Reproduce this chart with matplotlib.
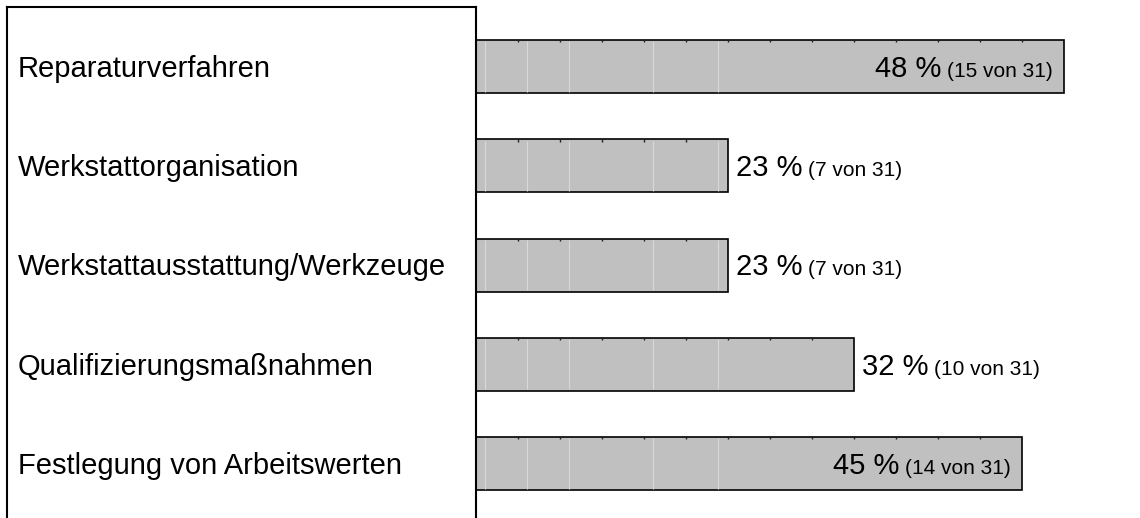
import matplotlib
matplotlib.use("Agg")
import matplotlib.pyplot as plt
from matplotlib import transforms
from matplotlib.font_manager import FontProperties
from matplotlib.lines import Line2D
import numpy as np

# data
categories = [
    "Reparaturverfahren",
    "Werkstattorganisation",
    "Werkstattausstattung/Werkzeuge",
    "Qualifizierungsmaßnahmen",
    "Festlegung von Arbeitswerten",
]
counts = [15, 7, 7, 10, 14]
total = 31

plt.rcParams['font.family'] = ['Liberation Sans', 'DejaVu Sans']

W, H, DPI = 1140, 518, 100
fig = plt.figure(figsize=(W / DPI, H / DPI), dpi=DPI)

# axes: left edge at x=476px, top at y=7px
ax = fig.add_axes([476 / W, 0, 664 / W, 511 / H])

pct = np.array(counts) / total * 100
unit = 100 / total              # one respondent in percent
px_per_pct = 42 / unit
x0 = unit
x1 = x0 + 664 / px_per_pct
ax.set_xlim(x0, x1)
ax.set_ylim(4.549, -0.5995)

ypos = np.arange(len(categories))
bar_h = 0.534
ax.barh(ypos, pct, height=bar_h, color="#c0c0c0", edgecolor="#000000",
        linewidth=1.2, zorder=2)

# rendering artefacts of the original: faint lines and tiny top ticks
for y, p, c in zip(ypos, pct, counts):
    for k in [1.21, 2.21, 3.21, 5.21, 6.76]:
        if k * unit < p - 0.5:
            ax.vlines(k * unit, y - bar_h / 2 + 0.015, y + bar_h / 2 - 0.015,
                      color="#d9d9d9", linewidth=0.8, zorder=3)
    for k in range(2, c + 1):
        if k * unit < p - 0.3:
            ax.vlines(k * unit, y - bar_h / 2, y - bar_h / 2 + 0.025,
                      color="#222222", linewidth=1.0, zorder=3)

for s in ["top", "right", "bottom"]:
    ax.spines[s].set_visible(False)
ax.spines["left"].set_linewidth(1.5)
ax.spines["left"].set_zorder(4)
ax.set_xticks([])
ax.set_yticks([])

# outer frame (top and left only)
fig.add_artist(Line2D([7 / W, 476 / W], [1 - 7 / H, 1 - 7 / H],
                      transform=fig.transFigure, color="black", linewidth=1.5))
fig.add_artist(Line2D([7 / W, 7 / W], [0, 1 - 7 / H],
                      transform=fig.transFigure, color="black", linewidth=1.5))

big_fs, small_fs = 21, 15
cap_px = big_fs * DPI / 72 * 0.716

# category labels
lbl_tr = transforms.blended_transform_factory(fig.transFigure, ax.transData)
lbl_tr = transforms.offset_copy(lbl_tr, fig=fig, x=0, y=-cap_px / 2, units="dots")
for y, name in zip(ypos, categories):
    ax.text(18 / W, y, name, transform=lbl_tr, fontsize=big_fs,
            va="baseline", ha="left", color="black", clip_on=False)

# value labels
fig.canvas.draw()
r = fig.canvas.get_renderer()
fp_big = FontProperties(family=['Liberation Sans'], size=big_fs)
fp_small = FontProperties(family=['Liberation Sans'], size=small_fs)
gap = 6
for y, p, c in zip(ypos, pct, counts):
    big = f"{round(p)} %"
    small = f"({c} von {total})"
    wb = r.get_text_width_height_descent(big, fp_big, ismath=False)[0]
    ws = r.get_text_width_height_descent(small, fp_small, ismath=False)[0]
    if p > 40:
        start = -11 - ws - gap - wb
    else:
        start = 8
    t1 = transforms.offset_copy(ax.transData, fig=fig, x=start,
                                y=-cap_px / 2, units="dots")
    t2 = transforms.offset_copy(ax.transData, fig=fig, x=start + wb + gap,
                                y=-cap_px / 2, units="dots")
    ax.text(p, y, big, transform=t1, fontsize=big_fs, va="baseline",
            ha="left", color="black", zorder=5, clip_on=False)
    ax.text(p, y, small, transform=t2, fontsize=small_fs, va="baseline",
            ha="left", color="black", zorder=5, clip_on=False)

fig.savefig("out.png", dpi=DPI)
